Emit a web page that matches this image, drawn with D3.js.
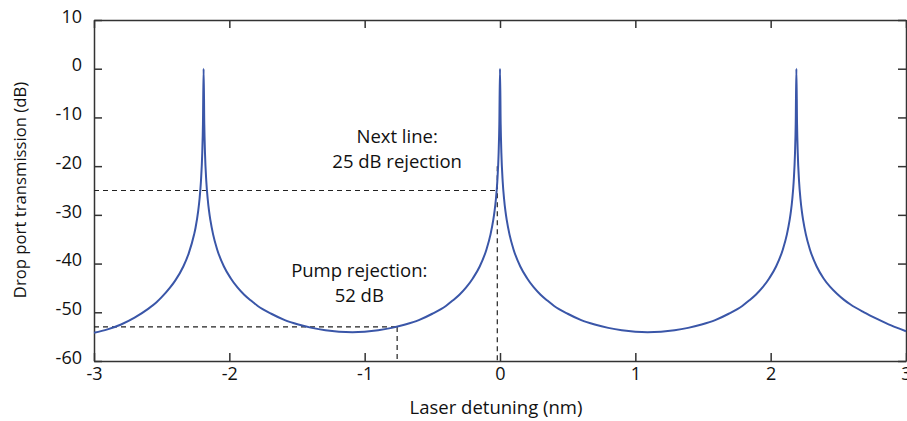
<!DOCTYPE html>
<html>
<head>
<meta charset="utf-8">
<script src="https://cdnjs.cloudflare.com/ajax/libs/d3/7.8.5/d3.min.js"></script>
<style>
  body { margin: 0; background: #fff; }
  svg { display: block; font-family: 'Open Sans', sans-serif; }
</style>
</head>
<body>
<div id="chart-div"></div>
<script>
'use strict';

// Laser detuning (nm)
var detuning = [
  -3.00, -2.90, -2.80, -2.70, -2.60, -2.54, -2.50, -2.44, -2.40, -2.34, -2.30, -2.26, -2.25, -2.23,
  -2.22, -2.21, -2.20, -2.195, -2.19,
  -2.185, -2.18, -2.17, -2.16, -2.15, -2.14, -2.12, -2.09, -2.04, -1.99,
  -1.94, -1.89, -1.84, -1.79, -1.69, -1.59, -1.49, -1.39, -1.29, -1.19, -1.09,
  -1.00, -0.90, -0.80, -0.70, -0.60, -0.50, -0.40, -0.35, -0.30, -0.25,
  -0.20, -0.15, -0.10, -0.07, -0.05, -0.04, -0.03, -0.02, -0.01, -0.005, 0.00,
  0.005, 0.01, 0.02, 0.03, 0.04, 0.05, 0.07, 0.10, 0.15, 0.20,
  0.25, 0.30, 0.35, 0.40, 0.50, 0.60, 0.70, 0.80, 0.90, 1.00, 1.09,
  1.19, 1.29, 1.39, 1.49, 1.59, 1.69, 1.79, 1.84, 1.89, 1.94,
  1.99, 2.04, 2.09, 2.12, 2.14, 2.15, 2.16, 2.17, 2.18, 2.185, 2.19,
  2.195, 2.20, 2.21, 2.22, 2.23, 2.24, 2.26, 2.29, 2.34, 2.39,
  2.44, 2.49, 2.54, 2.59, 2.69, 2.79, 2.89, 3.00
];

// Drop port transmission (dB) at each detuning
var transmission = [
  -54.2, -53.5, -52.5, -51.1, -49.3, -48.0, -46.9, -45.0, -43.5, -40.6, -37.9, -34.0, -32.7, -29.2,
  -26.7, -23.2, -17.2, -11.4, 0.0,
  -11.4, -17.2, -23.2, -26.7, -29.2, -31.1, -34.0, -37.1, -40.6, -43.0,
  -44.9, -46.4, -47.6, -48.7, -50.3, -51.6, -52.5, -53.2, -53.7, -54.0, -54.1,
  -54.0, -53.7, -53.2, -52.5, -51.6, -50.3, -48.7, -47.6, -46.4, -44.9,
  -43.0, -40.6, -37.1, -34.0, -31.1, -29.2, -26.7, -23.2, -17.2, -11.4, 0.0,
  -11.4, -17.2, -23.2, -26.7, -29.2, -31.1, -34.0, -37.1, -40.6, -43.0,
  -44.9, -46.4, -47.6, -48.7, -50.3, -51.6, -52.5, -53.2, -53.7, -54.0, -54.1,
  -54.0, -53.7, -53.2, -52.5, -51.6, -50.3, -48.7, -47.6, -46.4, -44.9,
  -43.0, -40.6, -37.1, -34.0, -31.1, -29.2, -26.7, -23.2, -17.2, -11.4, 0.0,
  -11.4, -17.2, -23.2, -26.7, -29.2, -31.1, -34.0, -37.1, -40.6, -43.0,
  -44.8, -46.2, -47.4, -48.4, -50.0, -51.4, -52.7, -53.9
];

var xTicks = [-3, -2, -1, 0, 1, 2, 3];
var yTicks = [10, 0, -10, -20, -30, -40, -50, -60];

// dashed guides, in data units: [x1, y1, x2, y2]
var guideLines = [
  [-3, -25, -0.02, -25],
  [-0.02, -20, -0.02, -60],
  [-3, -53, -0.76, -53],
  [-0.76, -53, -0.76, -60]
];

// annotation labels: [x, y of first baseline, lines]
var notes = [
  [-0.76, -15.25, ['Next line:', '25 dB rejection']],
  [-1.04, -42.7, ['Pump rejection:', '52 dB']]
];

var w = 907, h = 421;
var plotLeft = 94, plotRight = 906, plotTop = 20, plotBottom = 361;
var lineColor = '#3a56a8';
var axisColor = '#333';
var textColor = '#111';

var svg = d3.select('#chart-div')
  .append('svg')
  .attr('width', w)
  .attr('height', h);

var x = d3.scaleLinear().domain([-3, 3]).range([plotLeft, plotRight]);
var y = d3.scaleLinear().domain([-60, 10]).range([plotBottom, plotTop]);

var plainNum = function(d) { return String(d); };

// axes on all four sides, ticks pointing inward
var axes = svg.append('g').attr('class', 'axes');

axes.append('g')
  .attr('transform', 'translate(0,' + plotBottom + ')')
  .call(d3.axisBottom(x).tickValues(xTicks).tickSize(-8).tickSizeOuter(0).tickPadding(6)
    .tickFormat(plainNum));
axes.append('g')
  .attr('transform', 'translate(0,' + plotTop + ')')
  .call(d3.axisTop(x).tickValues(xTicks).tickSize(-8).tickSizeOuter(0).tickFormat(''));
axes.append('g')
  .attr('class', 'y-left')
  .attr('transform', 'translate(' + plotLeft + ',0)')
  .call(d3.axisLeft(y).tickValues(yTicks).tickSize(-8).tickSizeOuter(0).tickPadding(12)
    .tickFormat(plainNum));
axes.append('g')
  .attr('transform', 'translate(' + plotRight + ',0)')
  .call(d3.axisRight(y).tickValues(yTicks).tickSize(-8).tickSizeOuter(0).tickFormat(''));

axes.selectAll('.domain, .tick line')
  .attr('stroke', axisColor)
  .attr('stroke-width', 1.5);
axes.selectAll('.tick text')
  .attr('fill', textColor)
  .style('font-size', '18px')
  .style('font-family', 'Open Sans, sans-serif');
axes.selectAll('.y-left .tick text').attr('dy', '0.12em');

// dashed guide lines
svg.append('g')
  .selectAll('line')
  .data(guideLines)
  .join('line')
  .attr('x1', function(d) { return x(d[0]); })
  .attr('y1', function(d) { return y(d[1]); })
  .attr('x2', function(d) { return x(d[2]); })
  .attr('y2', function(d) { return y(d[3]); })
  .attr('stroke', '#222')
  .attr('stroke-width', 1.2)
  .attr('stroke-dasharray', '5,4');

// transmission trace
var pts = d3.zip(detuning, transmission);
svg.append('path')
  .datum(pts)
  .attr('fill', 'none')
  .attr('stroke', lineColor)
  .attr('stroke-width', 2)
  .attr('stroke-linejoin', 'round')
  .attr('d', d3.line()
    .x(function(d) { return x(d[0]); })
    .y(function(d) { return y(d[1]); })
    .curve(d3.curveMonotoneX));

// annotations
notes.forEach(function(n) {
  var t = svg.append('text')
    .attr('text-anchor', 'middle')
    .attr('fill', textColor)
    .style('font-size', '18.5px');
  n[2].forEach(function(s, i) {
    t.append('tspan')
      .attr('x', x(n[0]))
      .attr('y', y(n[1]) + i * 25)
      .text(s);
  });
});

// axis titles
svg.append('text')
  .attr('x', 496)
  .attr('y', 414)
  .attr('text-anchor', 'middle')
  .attr('fill', textColor)
  .style('font-size', '18.5px')
  .text('Laser detuning (nm)');

svg.append('text')
  .attr('transform', 'translate(25.5,190) rotate(-90)')
  .attr('text-anchor', 'middle')
  .attr('fill', textColor)
  .style('font-size', '16.7px')
  .text('Drop port transmission (dB)');
</script>
</body>
</html>
